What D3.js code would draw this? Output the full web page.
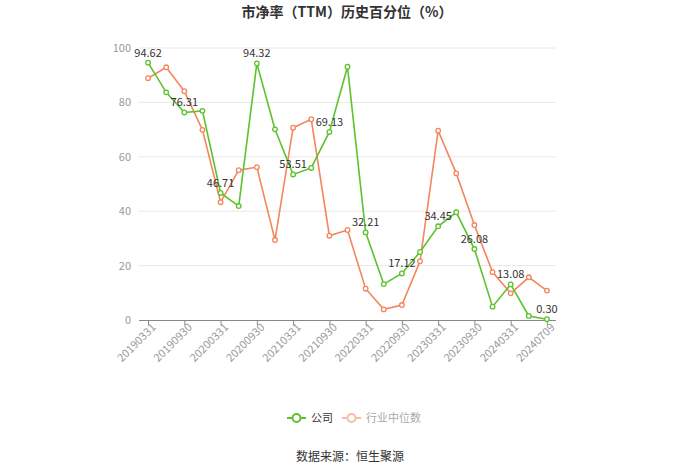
<!DOCTYPE html>
<html>
<head>
<meta charset="utf-8">
<script src="https://cdn.jsdelivr.net/npm/d3@7"></script>
<style>
  body { margin: 0; background: #fff; }
  svg { font-family: "Noto Sans CJK SC", "Noto Sans", sans-serif; }
</style>
</head>
<body>
<script>
const dates = ["20190331","20190630","20190930","20191231","20200331","20200630","20200930","20201231",
    "20210331","20210630","20210930","20211231","20220331","20220630","20220930","20221231",
    "20230331","20230630","20230930","20231231","20240331","20240630","20240709"]
const company = [94.62, 83.7, 76.31, 76.9, 46.71, 41.9, 94.32, 70.1, 53.51, 55.9, 69.13, 93.1,
    32.21, 13.2, 17.12, 25.0, 34.45, 39.6, 26.08, 4.9, 13.08, 1.5, 0.30]
const industry = [88.9, 92.9, 84.1, 69.9, 43.3, 55.1, 56.2, 29.4, 70.7, 73.8, 31.0, 33.1,
    11.5, 3.9, 5.5, 21.6, 69.6, 53.9, 34.9, 17.6, 9.8, 15.7, 10.8]
const yTicks = [0, 20, 40, 60, 80, 100]

const svgWidth = 700
const svgHeight = 474
const green = "#5cc22d"
const orange = "#f5855c"

const svg = d3.select("body").append("svg")
    .attr("width", svgWidth)
    .attr("height", svgHeight)

const x = d3.scalePoint()
    .domain(dates)
    .range([139, 556])
    .padding(0.5)

const y = d3.scaleLinear()
    .domain([0, 100])
    .range([320, 48])

// title
svg.append("text")
    .attr("x", 347).attr("y", 17)
    .attr("text-anchor", "middle")
    .attr("font-size", 14).attr("font-weight", "bold")
    .attr("fill", "#333")
    .text("市净率（TTM）历史百分位（%）")

// grid + y labels
svg.append("g").selectAll("line")
    .data(yTicks.filter(d => d > 0))
    .join("line")
    .attr("x1", 139).attr("x2", 556)
    .attr("y1", d => y(d)).attr("y2", d => y(d))
    .attr("stroke", "#e8e8e8")

svg.append("g").selectAll("text")
    .data(yTicks)
    .join("text")
    .attr("x", 131).attr("y", d => y(d) + 4)
    .attr("text-anchor", "end")
    .attr("font-size", 11).attr("fill", "#999")
    .text(d => d)

// x axis
const xAxis = d3.axisBottom(x)
    .tickValues(dates.filter((d, i) => i % 2 === 0))
    .tickSize(5)
    .tickSizeOuter(0)

const xg = svg.append("g")
    .attr("transform", "translate(0,320)")
    .call(xAxis)
xg.select(".domain").attr("stroke", "#888").attr("d", "M139,0.5H556")
xg.selectAll(".tick line").attr("stroke", "#888")
xg.selectAll(".tick text")
    .attr("font-size", 11).attr("fill", "#999")
    .attr("font-family", "Noto Sans CJK SC, sans-serif")
    .attr("text-anchor", "end")
    .attr("transform", "translate(2,2) rotate(-45)")
    .attr("dy", "0.5em")
    .attr("y", 3)
    .attr("x", 0)

const line = d3.line()
    .x((d, i) => x(dates[i]))
    .y(d => y(d))

function drawSeries(values, color) {
    svg.append("path")
        .attr("d", line(values))
        .attr("fill", "none")
        .attr("stroke", color)
        .attr("stroke-width", 1.6)
    svg.append("g").selectAll("circle")
        .data(values)
        .join("circle")
        .attr("cx", (d, i) => x(dates[i]))
        .attr("cy", d => y(d))
        .attr("r", 2.3)
        .attr("fill", "#fff")
        .attr("stroke", color)
        .attr("stroke-width", 1.3)
}

drawSeries(industry, orange)
drawSeries(company, green)

// labels for company
svg.append("g").selectAll("text")
    .data(company.map((v, i) => [v, i]).filter(d => d[1] % 2 === 0))
    .join("text")
    .attr("x", d => x(dates[d[1]]))
    .attr("y", d => y(d[0]) - 6)
    .attr("text-anchor", "middle")
    .attr("font-size", 11).attr("fill", "#333")
    .text(d => d[0].toFixed(2))

// legend
const legend = svg.append("g")
const items = [
    {name: "公司", color: green, text: "#333", x: 287},
    {name: "行业中位数", color: "#f8bba4", text: "#aaa", x: 342}
]
items.forEach(it => {
    legend.append("line")
        .attr("x1", it.x).attr("x2", it.x + 19)
        .attr("y1", 418).attr("y2", 418)
        .attr("stroke", it.color).attr("stroke-width", 2)
    legend.append("circle")
        .attr("cx", it.x + 9.5).attr("cy", 418).attr("r", 4)
        .attr("fill", "#fff").attr("stroke", it.color).attr("stroke-width", 2)
    legend.append("text")
        .attr("x", it.x + 24).attr("y", 422)
        .attr("font-size", 11).attr("fill", it.text)
        .text(it.name)
})

svg.append("text")
    .attr("x", 350).attr("y", 461)
    .attr("text-anchor", "middle")
    .attr("font-size", 12).attr("fill", "#333")
    .text("数据来源：恒生聚源")
</script>
</body>
</html>
